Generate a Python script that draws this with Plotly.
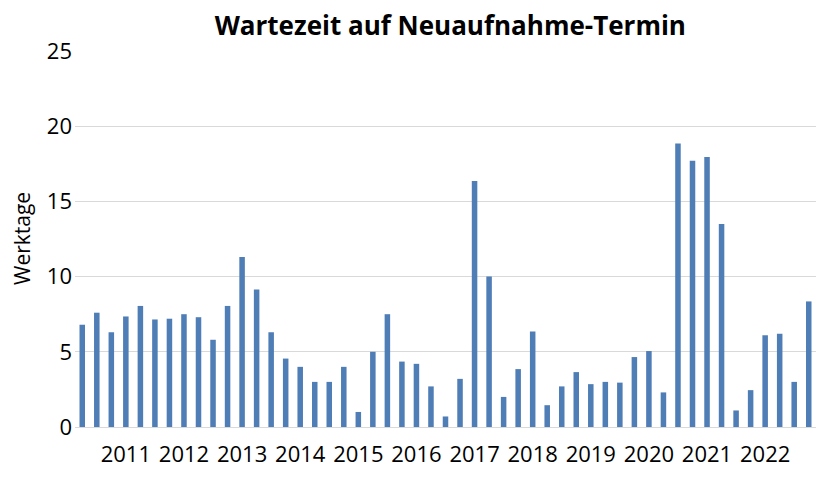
import plotly.graph_objects as go

title_text = "Wartezeit auf Neuaufnahme-Termin"
y_title = "Werktage"
# quarterly values (51 quarters)
quarter_index = list(range(1, 52))
values = [6.8, 7.6, 6.3, 7.35, 8.05, 7.15, 7.2, 7.5, 7.3, 5.8, 8.05, 11.3,
          9.15, 6.3, 4.55, 4.0, 3.0, 3.0, 4.0, 1.0, 5.0, 7.5, 4.35, 4.2,
          2.7, 0.7, 3.2, 16.35, 10.0, 2.0, 3.85, 6.35, 1.45, 2.7, 3.65, 2.85,
          3.0, 2.95, 4.65, 5.05, 2.3, 18.85, 17.7, 17.95, 13.5, 1.1, 2.45, 6.1,
          6.2, 3.0, 8.35]
year_tick_pos = [4, 8, 12, 16, 20, 24, 28, 32, 36, 40, 44, 48]
year_labels = ["2011", "2012", "2013", "2014", "2015", "2016", "2017",
               "2018", "2019", "2020", "2021", "2022"]
y_ticks = [0, 5, 10, 15, 20, 25]

fig = go.Figure()
fig.add_trace(go.Bar(
    x=quarter_index, y=values,
    marker=dict(color="#4f7db5", line=dict(width=0)),
    width=0.38,
))

fig.update_layout(
    width=837, height=478,
    paper_bgcolor="white", plot_bgcolor="white",
    margin=dict(l=75, r=21, t=51, b=51),
    showlegend=False,
    font=dict(family="Open Sans", color="#000000"),
    title=dict(text="<b>" + title_text + "</b>", x=0.538, xanchor="center",
               y=0.945, yanchor="middle",
               font=dict(size=26, family="Open Sans", color="#000000")),
    annotations=[dict(text=y_title, xref="paper", yref="paper",
                      x=0, y=0.5, xshift=-53, textangle=-90,
                      showarrow=False, xanchor="center", yanchor="middle",
                      font=dict(size=21, color="#000000"))],
)
fig.update_xaxes(
    range=[0.5, 51.5], automargin=False,
    tickmode="array", tickvals=year_tick_pos, ticktext=year_labels,
    showgrid=False, showline=False, ticks="", zeroline=False,
    ticklabelstandoff=12,
    tickfont=dict(size=22, color="#000000"),
)
fig.update_yaxes(
    range=[0, 25], tickmode="array", tickvals=y_ticks, automargin=False,
    showgrid=True, gridcolor="#d9d9d9", gridwidth=1,
    zeroline=True, zerolinecolor="#d9d9d9", zerolinewidth=1,
    showline=False, ticks="", ticklabelstandoff=2,
    tickfont=dict(size=22, color="#000000"),
)

fig.write_html("out.html", config={"displayModeBar": False},
               post_script="document.body.style.margin='0';")
